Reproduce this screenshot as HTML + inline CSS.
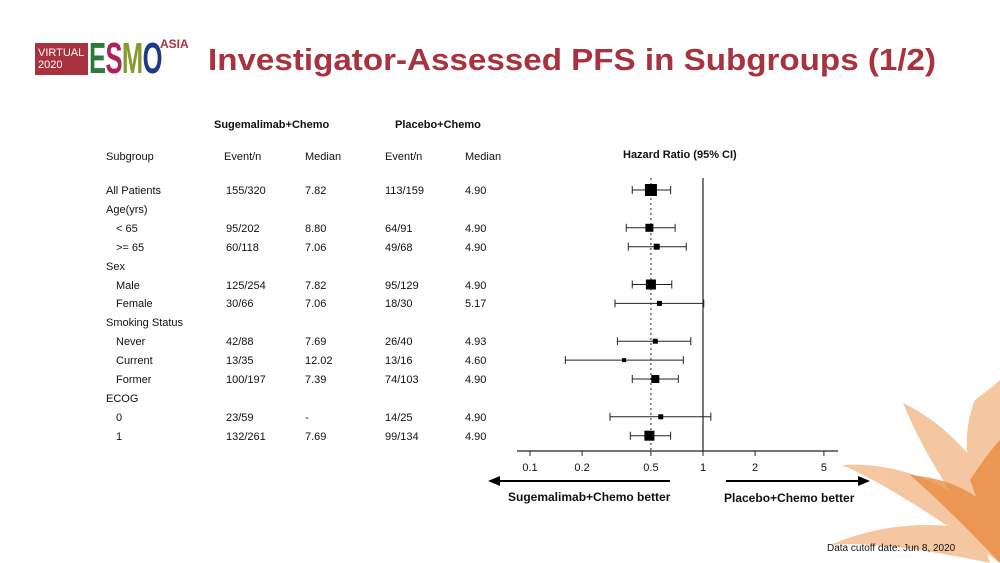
<!DOCTYPE html>
<html><head><meta charset="utf-8">
<style>
body{margin:0;width:1000px;height:563px;overflow:hidden;background:#fff;font-family:"Liberation Sans",Arial,sans-serif;position:relative}
.t{position:absolute;font-size:11px;color:#111;white-space:nowrap}
.b{font-weight:bold}
</style></head><body>
<svg width="1000" height="563" style="position:absolute;left:0;top:0">
  <g fill="#ec9a55" opacity="0.55">
    <path d="M1000 563 Q930 470 903 403 Q960 430 1000 500 Z"/>
    <path d="M1000 563 Q950 460 975 400 Q995 385 1000 380 Z"/>
    <path d="M1000 563 Q900 490 842 465 Q920 460 990 520 Z"/>
    <path d="M990 563 Q880 540 830 545 Q900 515 980 530 Z"/>
  </g>
  <g fill="#e8883a" opacity="0.75">
    <path d="M1000 563 Q950 510 910 475 Q970 480 1000 520 Z"/>
    <path d="M1000 563 L970 480 Q990 450 1000 440 Z"/>
  </g>
</svg>
<div style="position:absolute;left:35px;top:43px;height:32px;">
  <div style="position:absolute;left:0;top:0;width:53px;height:32px;background:#a8323e;color:#fff;font-size:11px;line-height:12px;padding:4px 0 0 3px;box-sizing:border-box">VIRTUAL<br>2020</div>
  <div style="position:absolute;left:54px;top:-6px;font-size:44px;font-weight:bold;letter-spacing:-1px;line-height:44px;transform:scaleX(0.58);transform-origin:left;white-space:nowrap"><span style="color:#2a7a3a">E</span><span style="color:#b0205a">S</span><span style="color:#8a9a2a">M</span><span style="color:#1a3a8a">O</span></div>
  <div style="position:absolute;left:125px;top:-6px;color:#a8323e;font-weight:bold;font-size:12px">ASIA</div>
</div>
<div style="position:absolute;left:208px;top:42px;font-size:31px;font-weight:bold;color:#a8323e;white-space:nowrap;transform:scaleX(1.07);transform-origin:left">Investigator-Assessed PFS in Subgroups (1/2)</div>
<div id="tbl"></div>
<svg id="fp" width="1000" height="563" style="position:absolute;left:0;top:0"></svg>
<div class="t" style="left:827px;top:543px;font-size:10px">Data cutoff date: Jun 8, 2020</div>
<script>
const labels=["All Patients","Age(yrs)","< 65",">= 65","Sex","Male","Female","Smoking Status","Never","Current","Former","ECOG","0","1"];
const indent=[0,0,1,1,0,1,1,0,1,1,1,0,1,1];
const sugEvents=["155/320","","95/202","60/118","","125/254","30/66","","42/88","13/35","100/197","","23/59","132/261"];
const sugMedian=["7.82","","8.80","7.06","","7.82","7.06","","7.69","12.02","7.39","","-","7.69"];
const plaEvents=["113/159","","64/91","49/68","","95/129","18/30","","26/40","13/16","74/103","","14/25","99/134"];
const plaMedian=["4.90","","4.90","4.90","","4.90","5.17","","4.93","4.60","4.90","","4.90","4.90"];
const hr=[0.50,null,0.49,0.54,null,0.50,0.56,null,0.53,0.35,0.53,null,0.57,0.49];
const lo=[0.39,null,0.36,0.37,null,0.39,0.31,null,0.32,0.16,0.39,null,0.29,0.38];
const hi=[0.65,null,0.69,0.80,null,0.66,1.01,null,0.85,0.77,0.72,null,1.11,0.65];
const boxSize=[12,null,8,6,null,10,5,null,5,4,8,null,5,10];
const ticks=[0.1,0.2,0.5,1,2,5];
const tickLabels=["0.1","0.2","0.5","1","2","5"];

const rowY=i=>190+i*18.9;
const xs=v=>703+173*Math.log10(v);
const tbl=document.getElementById('tbl');
function txt(s,x,y,cls,name){const d=document.createElement('div');d.className='t '+(cls||'');d.style.left=x+'px';d.style.top=y+'px';d.textContent=s;


tbl.appendChild(d);}
txt("Sugemalimab+Chemo",214,119,'b','header-sugemalimab');
txt("Placebo+Chemo",395,119,'b','header-placebo');
txt("Subgroup",106,151,'','col-subgroup');
txt("Event/n",224,151,'','col-sug-event');
txt("Median",305,151,'','col-sug-median');
txt("Event/n",385,151,'','col-pla-event');
txt("Median",465,151,'','col-pla-median');
txt("Hazard Ratio (95% CI)",623,149,'b','hr-title');
labels.forEach((l,i)=>{const y=rowY(i)-5;
 txt(l,106+indent[i]*10,y,'','row-label');
 if(sugEvents[i]){txt(sugEvents[i],226,y,'','sug-event');txt(sugMedian[i],305,y,'','sug-median');txt(plaEvents[i],385,y,'','pla-event');txt(plaMedian[i],465,y,'','pla-median');}
});
const svg=document.getElementById('fp');const NS='http://www.w3.org/2000/svg';
function el(t,a,name){const e=document.createElementNS(NS,t);for(const k in a)e.setAttribute(k,a[k]);


svg.appendChild(e);return e;}
el('line',{x1:xs(1),x2:xs(1),y1:178,y2:451,stroke:'#222','stroke-width':1.2},'null-line');
el('line',{x1:xs(0.5),x2:xs(0.5),y1:178,y2:451,stroke:'#222','stroke-width':1,'stroke-dasharray':'2,3'},'overall-ref-line');
el('line',{x1:517,x2:838,y1:451,y2:451,stroke:'#222','stroke-width':1.2},'x-axis');
ticks.forEach((t,i)=>{el('line',{x1:xs(t),x2:xs(t),y1:451,y2:456,stroke:'#222'},'x-tick');
 const tx=el('text',{x:xs(t),y:471,'text-anchor':'middle','font-size':11,fill:'#111'},'x-tick-label');tx.textContent=tickLabels[i];});
hr.forEach((v,i)=>{if(v==null)return;const y=rowY(i);
 el('line',{x1:xs(lo[i]),x2:xs(hi[i]),y1:y,y2:y,stroke:'#222','stroke-width':1},'ci-line');
 el('line',{x1:xs(lo[i]),x2:xs(lo[i]),y1:y-4,y2:y+4,stroke:'#222'},'ci-cap');
 el('line',{x1:xs(hi[i]),x2:xs(hi[i]),y1:y-4,y2:y+4,stroke:'#222'},'ci-cap');
 const s=boxSize[i];el('rect',{x:xs(v)-s/2,y:y-s/2,width:s,height:s,fill:'#000'},'hr-point');});
el('line',{x1:670,x2:498,y1:481,y2:481,stroke:'#000','stroke-width':2},'left-arrow');
el('polygon',{points:'488,481 500,476 500,486',fill:'#000'},'left-arrowhead');
el('line',{x1:726,x2:860,y1:481,y2:481,stroke:'#000','stroke-width':2},'right-arrow');
el('polygon',{points:'870,481 858,476 858,486',fill:'#000'},'right-arrowhead');
let a=el('text',{x:508,y:501,'font-size':12,'font-weight':'bold',fill:'#111'},'left-favors-label');a.textContent='Sugemalimab+Chemo better';
a=el('text',{x:724,y:502,'font-size':12,'font-weight':'bold',fill:'#111'},'right-favors-label');a.textContent='Placebo+Chemo better';
</script>
</body></html>
